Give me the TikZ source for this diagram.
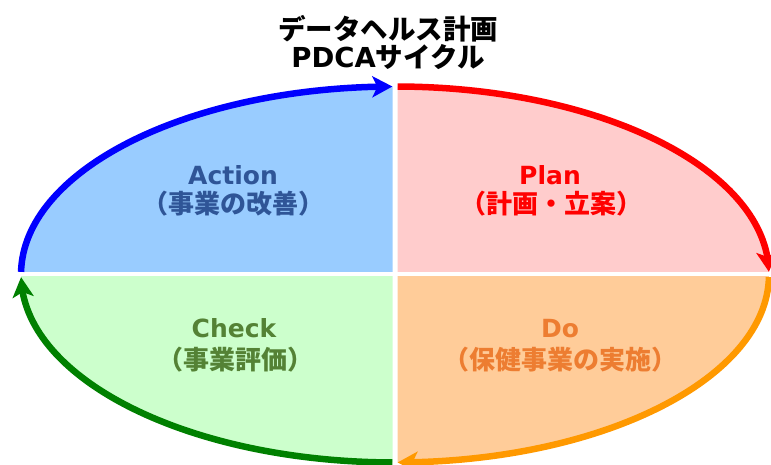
\documentclass[tikz,border=0pt]{standalone}
\usepackage{fontspec}
\setmainfont{Noto Sans CJK JP}
\newfontfamily\lat{DejaVu Sans}
\usetikzlibrary{arrows.meta,calc,bending}
\definecolor{fA}{HTML}{99CCFF}
\definecolor{fP}{HTML}{FFCCCC}
\definecolor{fC}{HTML}{CCFFCC}
\definecolor{fD}{HTML}{FFCC99}
\definecolor{aA}{HTML}{0000FF}
\definecolor{aP}{HTML}{FF0000}
\definecolor{aD}{HTML}{FF9900}
\definecolor{aC}{HTML}{008000}
\definecolor{tA}{HTML}{2F5597}
\definecolor{tP}{HTML}{FF0000}
\definecolor{tC}{HTML}{548235}
\definecolor{tD}{HTML}{ED7D31}
\tikzset{
  cyclearc/.style={line width=6.5pt,-{Stealth[length=20pt,width=21pt,inset=5pt]}},
  lbl/.style={font=\bfseries\fontsize{25}{30}\selectfont, anchor=base, inner sep=0pt},
  jlbl/.style={font=\bfseries\fontsize{26}{30}\selectfont, anchor=base, inner sep=0pt},
  ttl/.style={font=\bfseries\fontsize{27.5}{32}\selectfont, anchor=base, inner sep=0pt, text=black},
  quad/.style={x radius=374, y radius=188}
}
\begin{document}
\begin{tikzpicture}[x=1pt,y=1pt]
\useasboundingbox (0,0) rectangle (771,465);
\coordinate (C) at (395,190.5);
% quadrant fills
\begin{scope}\clip (0,193) rectangle (392.5,465); \fill[fA] (C) ellipse[quad]; \end{scope}
\begin{scope}\clip (397.5,193) rectangle (771,465); \fill[fP] (C) ellipse[quad]; \end{scope}
\begin{scope}\clip (0,0) rectangle (392.5,188); \fill[fC] (C) ellipse[quad]; \end{scope}
\begin{scope}\clip (397.5,0) rectangle (771,188); \fill[fD] (C) ellipse[quad]; \end{scope}
% arcs
\coordinate (sA) at ($(C)+(179.2:374 and 188)$);
\coordinate (sP) at ($(C)+(89.6:374 and 188)$);
\coordinate (sD) at ($(C)+(-0.8:374 and 188)$);
\coordinate (sC) at ($(C)+(-90.4:374 and 188)$);
\draw[cyclearc, aA] (sA) arc[start angle=179.2, end angle=90.4, quad];
\draw[cyclearc, aP] (sP) arc[start angle=89.6, end angle=0.8, quad];
\draw[cyclearc, aD] (sD) arc[start angle=-0.8, end angle=-89.6, quad];
\draw[cyclearc, aC] (sC) arc[start angle=-90.4, end angle=-179.2, quad];
% title
\node[ttl] (t1) at (388,425) {データヘルス計画};
\node[ttl] (t2) at (388,397) {{\lat PDCA}サイクル};
% labels
\node[lbl, text=tA] (a1) at (233,280) {\lat Action};
\node[jlbl, text=tA] (a2) at (233,251) {（事業の改善）};
\node[lbl, text=tP] (p1) at (550,280) {\lat Plan};
\node[jlbl, text=tP] (p2) at (551,251) {（計画・立案）};
\node[lbl, text=tC] (c1) at (234,127) {\lat Check};
\node[jlbl, text=tC] (c2) at (235,95) {（事業評価）};
\node[lbl, text=tD] (d1) at (560,127) {\lat Do};
\node[jlbl, text=tD] (d2) at (560,95) {（保健事業の実施）};
\end{tikzpicture}
\end{document}
